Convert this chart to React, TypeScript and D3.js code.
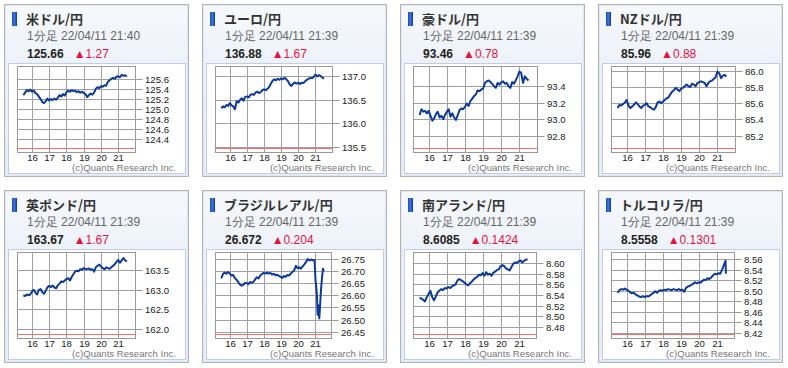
import React from 'react';
import * as d3 from 'd3';

// 1-minute closes sampled every 6 minutes, 15:30 .. 21:30
const hours = d3.range(61).map(i => 15.5 + i * 0.1);
const hourTicks = [16, 17, 18, 19, 20, 21];

const titles = ['米ドル/円', 'ユーロ/円', '豪ドル/円', 'NZドル/円', '英ポンド/円', 'ブラジルレアル/円', '南アランド/円', 'トルコリラ/円'];
const stamps = ['22/04/11 21:40', '22/04/11 21:39', '22/04/11 21:39', '22/04/11 21:39', '22/04/11 21:39', '22/04/11 21:39', '22/04/11 21:39', '22/04/11 21:39'];
const lastPrices = ['125.66', '136.88', '93.46', '85.96', '163.67', '26.672', '8.6085', '8.5558'];
const changes = ['1.27', '1.67', '0.78', '0.88', '1.67', '0.204', '0.1424', '0.1301'];

const usdJpy = [125.28, 125.33, 125.38, 125.36, 125.39, 125.35, 125.37, 125.32, 125.30, 125.25, 125.20, 125.14, 125.12, 125.16, 125.21, 125.17, 125.20, 125.18, 125.21, 125.19, 125.23, 125.28, 125.25, 125.30, 125.27, 125.34, 125.37, 125.35, 125.38, 125.36, 125.37, 125.34, 125.36, 125.33, 125.35, 125.32, 125.30, 125.24, 125.28, 125.31, 125.29, 125.33, 125.41, 125.44, 125.42, 125.46, 125.45, 125.48, 125.47, 125.55, 125.58, 125.61, 125.63, 125.61, 125.65, 125.66, 125.64, 125.69, 125.67, 125.68, 125.66];
const eurJpy = [136.32, 136.36, 136.34, 136.39, 136.37, 136.43, 136.38, 136.36, 136.30, 136.47, 136.44, 136.50, 136.53, 136.48, 136.56, 136.57, 136.55, 136.60, 136.62, 136.60, 136.65, 136.67, 136.64, 136.66, 136.70, 136.72, 136.70, 136.73, 136.77, 136.84, 136.90, 136.93, 136.91, 136.94, 136.92, 136.95, 136.93, 136.96, 136.93, 136.89, 136.82, 136.79, 136.84, 136.86, 136.84, 136.86, 136.83, 136.86, 136.85, 136.89, 136.92, 136.94, 136.96, 136.95, 136.98, 137.03, 136.99, 137.02, 137.00, 136.97, 136.94];
const audJpy = [93.05, 93.12, 93.09, 93.10, 93.07, 93.10, 93.04, 92.98, 93.01, 93.06, 93.09, 93.02, 93.04, 93.00, 93.05, 93.09, 93.12, 93.03, 93.07, 93.02, 92.99, 93.05, 93.11, 93.13, 93.12, 93.15, 93.19, 93.16, 93.22, 93.25, 93.28, 93.30, 93.35, 93.34, 93.36, 93.37, 93.44, 93.46, 93.47, 93.45, 93.43, 93.40, 93.38, 93.44, 93.42, 93.45, 93.46, 93.43, 93.44, 93.40, 93.38, 93.45, 93.43, 93.47, 93.52, 93.58, 93.56, 93.44, 93.52, 93.49, 93.47];
const nzdJpy = [85.54, 85.58, 85.57, 85.59, 85.61, 85.64, 85.57, 85.54, 85.56, 85.58, 85.61, 85.59, 85.56, 85.54, 85.57, 85.58, 85.60, 85.56, 85.55, 85.53, 85.52, 85.55, 85.61, 85.62, 85.60, 85.62, 85.64, 85.66, 85.67, 85.71, 85.74, 85.76, 85.79, 85.77, 85.75, 85.78, 85.79, 85.81, 85.83, 85.81, 85.80, 85.84, 85.83, 85.81, 85.85, 85.86, 85.87, 85.86, 85.85, 85.81, 85.85, 85.87, 85.88, 85.90, 85.92, 85.99, 85.97, 85.91, 85.94, 85.95, 85.93];
const gbpJpy = [162.86, 162.84, 162.88, 162.86, 162.88, 162.95, 163.00, 162.93, 162.88, 163.00, 163.02, 162.94, 162.90, 162.98, 163.07, 163.10, 163.07, 163.11, 163.06, 163.04, 163.12, 163.16, 163.22, 163.20, 163.24, 163.28, 163.30, 163.24, 163.33, 163.40, 163.47, 163.49, 163.48, 163.53, 163.52, 163.56, 163.53, 163.54, 163.55, 163.52, 163.53, 163.47, 163.58, 163.62, 163.65, 163.60, 163.56, 163.53, 163.58, 163.56, 163.54, 163.58, 163.62, 163.66, 163.72, 163.77, 163.70, 163.76, 163.82, 163.76, 163.73];
const brlJpy = [26.670, 26.688, 26.694, 26.689, 26.696, 26.690, 26.682, 26.684, 26.672, 26.665, 26.655, 26.645, 26.640, 26.643, 26.652, 26.650, 26.646, 26.655, 26.652, 26.656, 26.666, 26.675, 26.670, 26.682, 26.688, 26.693, 26.690, 26.694, 26.690, 26.692, 26.686, 26.689, 26.683, 26.685, 26.680, 26.676, 26.672, 26.680, 26.677, 26.684, 26.682, 26.690, 26.697, 26.703, 26.722, 26.712, 26.716, 26.710, 26.720, 26.728, 26.738, 26.750, 26.744, 26.748, 26.745, 26.746];
const brlTail: [number, number][] = [[21.03, 26.70], [21.06, 26.66], [21.1, 26.635], [21.14, 26.60], [21.18, 26.52], [21.21, 26.56], [21.25, 26.53], [21.28, 26.505], [21.32, 26.55], [21.36, 26.60], [21.4, 26.64], [21.45, 26.68], [21.5, 26.71], [21.55, 26.70]];
const zarJpy = [8.535, 8.533, 8.531, 8.528, 8.536, 8.542, 8.548, 8.536, 8.530, 8.537, 8.545, 8.548, 8.551, 8.549, 8.553, 8.552, 8.555, 8.553, 8.556, 8.558, 8.560, 8.567, 8.570, 8.568, 8.566, 8.563, 8.560, 8.558, 8.562, 8.565, 8.569, 8.572, 8.574, 8.578, 8.577, 8.581, 8.576, 8.583, 8.578, 8.580, 8.576, 8.582, 8.584, 8.587, 8.588, 8.594, 8.596, 8.594, 8.590, 8.588, 8.586, 8.592, 8.598, 8.601, 8.600, 8.603, 8.605, 8.601, 8.604, 8.606, 8.607];
const tryJpy = [8.496, 8.501, 8.503, 8.502, 8.504, 8.502, 8.500, 8.497, 8.495, 8.496, 8.493, 8.491, 8.489, 8.488, 8.490, 8.488, 8.490, 8.489, 8.491, 8.494, 8.496, 8.499, 8.496, 8.500, 8.501, 8.500, 8.502, 8.501, 8.503, 8.502, 8.501, 8.503, 8.502, 8.501, 8.503, 8.501, 8.502, 8.498, 8.505, 8.508, 8.509, 8.511, 8.513, 8.516, 8.514, 8.516, 8.515, 8.518, 8.521, 8.520, 8.524, 8.522, 8.525, 8.529, 8.532, 8.531, 8.533, 8.532, 8.539, 8.548, 8.557];
const tryTail: [number, number][] = [[21.52, 8.532]];

const usdTicks = [125.6, 125.4, 125.2, 125.0, 124.8, 124.6, 124.4];
const eurTicks = [137.0, 136.5, 136.0, 135.5];
const audTicks = [93.4, 93.2, 93.0, 92.8];
const nzdTicks = [86.0, 85.8, 85.6, 85.4, 85.2];
const gbpTicks = [163.5, 163.0, 162.5, 162.0];
const brlTicks = [26.75, 26.70, 26.65, 26.60, 26.55, 26.50, 26.45];
const zarTicks = [8.60, 8.58, 8.56, 8.54, 8.52, 8.50, 8.48];
const tryTicks = [8.56, 8.54, 8.52, 8.50, 8.48, 8.46, 8.44, 8.42];

const series = [usdJpy, eurJpy, audJpy, nzdJpy, gbpJpy, brlJpy, zarJpy, tryJpy];
const tails: [number, number][][] = [[], [], [], [], [], brlTail, [], tryTail];
const ticks = [usdTicks, eurTicks, audTicks, nzdTicks, gbpTicks, brlTicks, zarTicks, tryTicks];
const tickDigits = [1, 1, 1, 1, 1, 2, 2, 2];
const yDomains: [number, number][] = [[124.133, 125.867], [135.40, 137.21], [92.60, 93.646], [84.996, 86.06], [161.76, 163.974], [26.424, 26.779], [8.4594, 8.6206], [8.4105, 8.5733]];
const plotRights = [131, 130, 137, 137, 131, 129, 136, 136];

const W = 184, H = 172;
const AXIS_FONT = '"Liberation Sans", Arial, sans-serif';
const JP_FONT = '"Noto Sans CJK JP", "Liberation Sans", sans-serif';

function Panel({ i }: { i: number }) {
  const col = i % 4, row = Math.floor(i / 4);
  const px = 4 + col * 198, py = 4 + row * 186;
  const left = 13.3, right = plotRights[i], top = 62, bottom = 148;
  const xs = d3.scaleLinear().domain([15.15, 21.97]).range([left, right]);
  const ys = d3.scaleLinear().domain(yDomains[i]).range([bottom, top]);
  const pts: [number, number][] = series[i].map((v, k) => [hours[k], v] as [number, number]).concat(tails[i]);
  const path = d3.line<[number, number]>().x(d => xs(d[0])).y(d => ys(d[1]))(pts) || '';
  const fmt = d3.format('.' + tickDigits[i] + 'f');
  const crisp = (v: number) => Math.round(v) + 0.5;
  const gy = ticks[i].map(t => crisp(ys(t)));
  const gx = hourTicks.map(h => crisp(xs(h)));
  const L = crisp(left), R = crisp(right), T = crisp(top), B = crisp(bottom);

  return (
    <g transform={`translate(${px},${py})`}>
      <rect x={0.5} y={0.5} width={W} height={H} fill="url(#hdr)" stroke="#b4b4b4" />
      <rect x={1.5} y={1.5} width={W - 2} height={H - 2} fill="none" stroke="#dfe7f5" />
      <rect x={8} y={8} width={5} height={14} fill="url(#mk)" />
      <text x={22} y={20} fontFamily={JP_FONT} fontSize={13} fontWeight="bold" fill="#333">{titles[i]}</text>
      <text x={23} y={36} fontFamily={AXIS_FONT} fontSize={12} fill="#666">{'1分足 ' + stamps[i]}</text>
      <text x={23} y={53.5} fontFamily={AXIS_FONT} fontSize={12}>
        <tspan fontWeight="bold" fill="#222">{lastPrices[i]}</tspan>
        <tspan dx={10} fill="#e8103c">{'▲' + changes[i]}</tspan>
      </text>
      <rect x={4.5} y={59.5} width={177} height={110} fill="#fff" stroke="#bfcde8" />
      <rect x={L} y={T} width={R - L} height={B - T} fill="#fff" stroke="#999" />
      {gx.map((x, k) => <line key={'v' + k} x1={x} x2={x} y1={T} y2={B} stroke="#a0a0a0" />)}
      {gy.map((y, k) => (
        <g key={'h' + k}>
          <line x1={L} x2={R} y1={y} y2={y} stroke="#a0a0a0" />
          <line x1={R} x2={R + 7} y1={y} y2={y} stroke="#999" />
          <text x={R + 9.5} y={y + 3.5} fontFamily={AXIS_FONT} fontSize={9.6} fill="#222">{fmt(ticks[i][k])}</text>
        </g>
      ))}
      <line x1={L} x2={R} y1={144.5} y2={144.5} stroke="#f07070" />
      {hourTicks.map((h, k) => (
        <text key={'x' + k} x={gx[k]} y={157} textAnchor="middle" fontFamily={AXIS_FONT} fontSize={9.6} fill="#222">{h}</text>
      ))}
      <path d={path} fill="none" stroke="#0c3a99" strokeWidth={2} strokeLinejoin="round" />
      <text x={172} y={167} textAnchor="end" fontFamily={AXIS_FONT} fontSize={9.6} fill="#777">(c)Quants Research Inc.</text>
    </g>
  );
}

export default function App() {
  return (
    <svg width={788} height={368} style={{ position: 'absolute', left: 0, top: 0, background: '#fff' }}>
      <defs>
        <linearGradient id="hdr" x1="0" y1="0" x2="0" y2="1">
          <stop offset="0" stopColor="#f6f8fc" />
          <stop offset="0.35" stopColor="#edf2fa" />
          <stop offset="1" stopColor="#e8eef8" />
        </linearGradient>
        <linearGradient id="mk" x1="0" y1="0" x2="1" y2="0">
          <stop offset="0" stopColor="#1a4fb8" />
          <stop offset="0.5" stopColor="#3f74d6" />
          <stop offset="1" stopColor="#0b3596" />
        </linearGradient>
      </defs>
      {titles.map((_, i) => <Panel key={i} i={i} />)}
    </svg>
  );
}
